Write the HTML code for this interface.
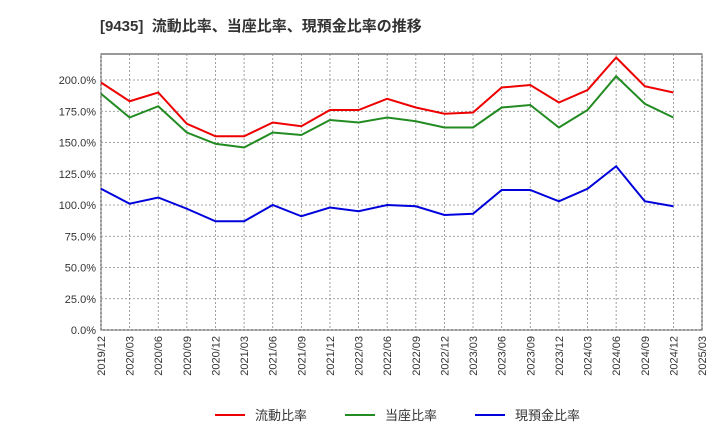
<!DOCTYPE html>
<html><head><meta charset="utf-8"><style>
body{margin:0;background:#fff;font-family:"Liberation Sans","Noto Sans CJK JP",sans-serif;}
</style></head><body>
<svg id="chart" width="720" height="440" xmlns="http://www.w3.org/2000/svg" font-family="Liberation Sans, Noto Sans CJK JP, sans-serif">
<text x="100" y="31" font-size="15" font-weight="bold" fill="#333">[9435]&#160;&#160;流動比率、当座比率、現預金比率の推移</text>
<g id="grid"></g><g id="axes"></g><g id="series"></g><g id="legend"></g>
</svg>
<script>
const categories=["2019/12","2020/03","2020/06","2020/09","2020/12","2021/03","2021/06","2021/09","2021/12","2022/03","2022/06","2022/09","2022/12","2023/03","2023/06","2023/09","2023/12","2024/03","2024/06","2024/09","2024/12","2025/03"];
const currentRatio=[198,183,190,165,155,155,166,163,176,176,185,178,173,174,194,196,182,192,218,195,190];
const quickRatio=[189,170,179,158,149,146,158,156,168,166,170,167,162,162,178,180,162,176,203,181,170];
const cashRatio=[113,101,106,97,87,87,100,91,98,95,100,99,92,93,112,112,103,113,131,103,99];
const yTicks=[0,25,50,75,100,125,150,175,200];
const seriesNames=["流動比率","当座比率","現預金比率"];
const colors=["#e00","#228b22","#00d"];
const NS="http://www.w3.org/2000/svg";
const L=101,R=702,T=54,B=330;
const x=i=>L+i*(R-L)/(categories.length-1);
const y=v=>B-v*(250/200);
function mk(tag,attrs,parent,text){const e=document.createElementNS(NS,tag);for(const k in attrs)e.setAttribute(k,attrs[k]);if(text!==undefined)e.textContent=text;document.getElementById(parent).appendChild(e);return e;}
let e=mk("rect",{x:L,y:T,width:R-L,height:B-T,fill:"#fff",stroke:"#333"},"grid");


yTicks.forEach(v=>{
 let g=mk("line",{x1:L,x2:R,y1:y(v),y2:y(v),stroke:"#888","stroke-dasharray":"2,2","stroke-width":0.8},"grid");
 
 
 let t=mk("text",{x:L-5,y:y(v)+4,"text-anchor":"end","font-size":11,fill:"#333"},"axes",v.toFixed(1)+"%");
 
 
});
categories.forEach((c,i)=>{
 let g=mk("line",{x1:x(i),x2:x(i),y1:T,y2:B,stroke:"#888","stroke-dasharray":"2,2","stroke-width":0.8},"grid");
 
 
 let t=mk("text",{transform:`translate(${x(i)+4},${B+6}) rotate(-90)`,"text-anchor":"end","font-size":11,fill:"#333"},"axes",c);
 
 
});
[currentRatio,quickRatio,cashRatio].forEach((d,s)=>{
 let p=mk("polyline",{points:d.map((v,i)=>x(i)+","+y(v)).join(" "),fill:"none",stroke:colors[s],"stroke-width":2},"series");
 
 
 const lx=[215,345,475][s];
 let l=mk("line",{x1:lx,x2:lx+30,y1:415,y2:415,stroke:colors[s],"stroke-width":2},"legend");
 
 
 let t=mk("text",{x:lx+40,y:420,"font-size":13,fill:"#333"},"legend",seriesNames[s]);
 
 
});
</script>
</body></html>
